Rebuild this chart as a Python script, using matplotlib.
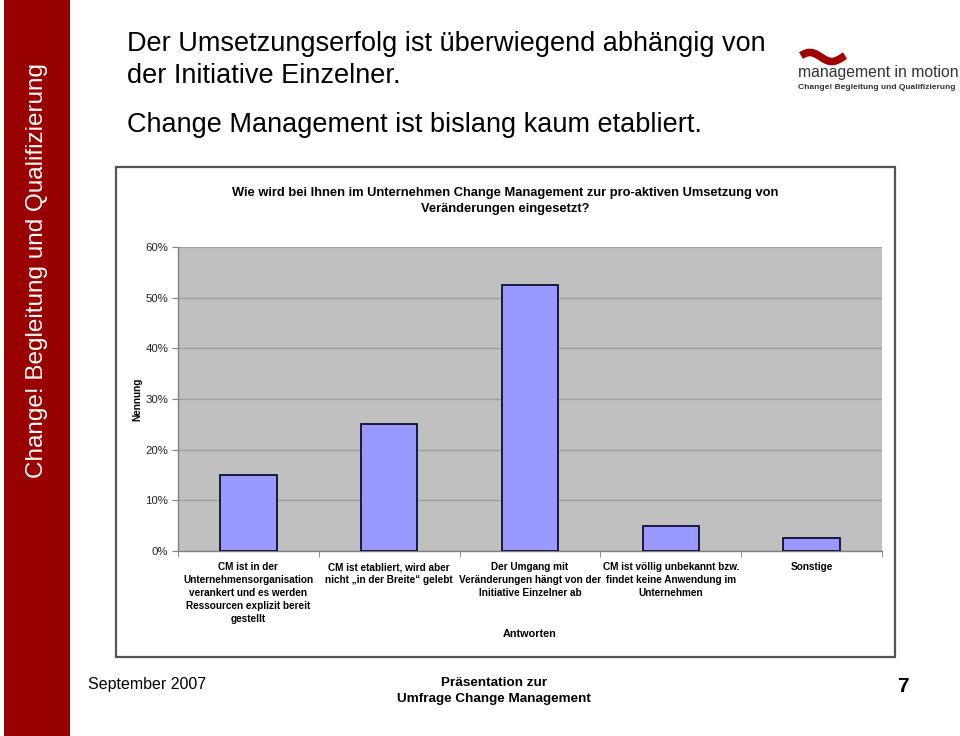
import numpy as np
import matplotlib
matplotlib.use("Agg")
import matplotlib.pyplot as plt
from matplotlib import font_manager
from matplotlib.patches import Rectangle
from matplotlib.lines import Line2D

# ---------------- data ----------------
categories = [
    "CM ist in der\nUnternehmensorganisation\nverankert und es werden\nRessourcen explizit bereit\ngestellt",
    "CM ist etabliert, wird aber\nnicht \u201ein der Breite\u201c gelebt",
    "Der Umgang mit\nVer\u00e4nderungen h\u00e4ngt von der\nInitiative Einzelner ab",
    "CM ist v\u00f6llig unbekannt bzw.\nfindet keine Anwendung im\nUnternehmen",
    "Sonstige",
]
values = [0.15, 0.25, 0.525, 0.05, 0.025]
y_ticks = [0.0, 0.1, 0.2, 0.3, 0.4, 0.5, 0.6]
y_tick_labels = ["0%", "10%", "20%", "30%", "40%", "50%", "60%"]

slide_title = ["Der Umsetzungserfolg ist \u00fcberwiegend abh\u00e4ngig von",
               "der Initiative Einzelner.",
               "Change Management ist bislang kaum etabliert."]
chart_title = ("Wie wird bei Ihnen im Unternehmen Change Management zur pro-aktiven Umsetzung von\n"
               "Ver\u00e4nderungen eingesetzt?")
x_label = "Antworten"
y_label = "Nennung"

# ---------------- fonts ----------------
names = {f.name for f in font_manager.fontManager.ttflist}
NARROW = "Liberation Sans Narrow" if "Liberation Sans Narrow" in names else "Liberation Sans"
SANS = "Liberation Sans"

W, H = 960, 736
fig = plt.figure(figsize=(W / 100, H / 100), dpi=100)
fig.patch.set_facecolor("white")


def fx(x):
    return x / W


def fy(y):
    return 1 - y / H


# red side band
fig.patches.append(Rectangle((fx(4), 0), fx(66), 1, transform=fig.transFigure,
                             facecolor="#990000", edgecolor="none", zorder=-2))
fig.text(fx(37), fy(271), "Change! Begleitung und Qualifizierung", rotation=90,
         color="white", fontsize=17.5, family=SANS, ha="center", va="center")

# slide title
fig.text(fx(127), fy(44), slide_title[0], fontsize=19.5, family=SANS, ha="left", va="center")
fig.text(fx(127), fy(76), slide_title[1], fontsize=19.5, family=SANS, ha="left", va="center")
fig.text(fx(127), fy(125), slide_title[2], fontsize=19.5, family=SANS, ha="left", va="center")

# logo
t = np.linspace(0, 1, 60)
sx = fx(801) + t * fx(44)
sy = fy(57) + np.sin(t * 2 * np.pi + np.pi * 0.1) * (4.5 / H)
fig.lines.append(Line2D(sx, sy, transform=fig.transFigure, color="#a00000",
                        lw=5.5, solid_capstyle="butt"))
fig.text(fx(798), fy(73), "management in motion", fontsize=11.3, family=SANS,
         color="#333333", ha="left", va="center")
fig.text(fx(798), fy(87.5), "Change! Begleitung und Qualifizierung", fontsize=6,
         family=SANS, weight="bold", color="#333333", ha="left", va="center")

# chart frame
fig.patches.append(Rectangle((fx(116), fy(657)), fx(779), (657 - 167) / H,
                             transform=fig.transFigure, facecolor="white",
                             edgecolor="#555555", lw=1.6, zorder=-1))

fig.text(fx(505), fy(201), chart_title, fontsize=9.3, family=NARROW, weight="bold",
         ha="center", va="center", linespacing=1.55)

# axes
ax = fig.add_axes([fx(178), fy(551), fx(704), (551 - 247) / H])
ax.set_zorder(2)
ax.set_facecolor("#C0C0C0")
x = np.arange(len(values))
ax.bar(x, values, width=0.4, color="#9999FF", edgecolor="#000022", linewidth=1.2, zorder=3)
ax.set_xlim(-0.5, len(values) - 0.5)
ax.set_ylim(0, 0.6)
ax.set_yticks(y_ticks)
ax.set_yticklabels(y_tick_labels, fontsize=8.2, family=SANS, color="#222222")
ax.yaxis.grid(True, color="#A0A0A0", lw=1, zorder=1)
ax.set_axisbelow(True)
ax.tick_params(axis="y", length=4, color="#808080", pad=3)
for s in ["top", "right"]:
    ax.spines[s].set_visible(False)
for s in ["left", "bottom"]:
    ax.spines[s].set_color("#808080")
    ax.spines[s].set_linewidth(1)
ax.set_xticks(x)
ax.set_xticklabels([])
ax.tick_params(axis="x", which="major", length=0)
ax.set_xticks(np.arange(-0.5, len(values), 1.0), minor=True)
ax.tick_params(axis="x", which="minor", length=4, color="#808080")

for xi, lab in zip(x, categories):
    ax.text(xi, -0.022, lab, ha="center", va="top", fontsize=7.2, family=NARROW,
            weight="bold", linespacing=1.38)

fig.text(fx(530), fy(634), x_label, ha="center", va="center", fontsize=7.8,
         family=NARROW, weight="bold")
fig.text(fx(137), fy(399), y_label, ha="center", va="center", rotation=90,
         fontsize=7.2, family=NARROW, weight="bold")

# footer
fig.text(fx(88), fy(685), "September 2007", fontsize=11.5, family=SANS, ha="left", va="center")
fig.text(fx(494), fy(691), "Pr\u00e4sentation zur\nUmfrage Change Management",
         fontsize=9.7, family=NARROW, weight="bold", ha="center", va="center",
         linespacing=1.45)
fig.text(fx(903), fy(687), "7", fontsize=15, family=SANS, weight="bold",
         ha="center", va="center")

fig.savefig("out.png", dpi=100, facecolor="white")
